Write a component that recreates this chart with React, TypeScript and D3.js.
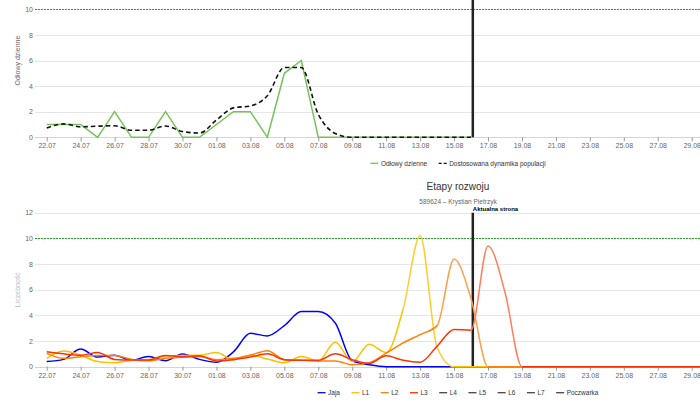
import { useEffect, useRef } from 'react';
import * as d3 from 'd3';

// Dates
const startDate = new Date(2024, 6, 22);
const currentDate = new Date(2024, 7, 16, 2, 30);
const tickLabels = [
  '22.07', '24.07', '26.07', '28.07', '30.07', '01.08', '03.08', '05.08', '07.08', '09.08',
  '11.08', '13.08', '15.08', '17.08', '19.08', '21.08', '23.08', '25.08', '27.08', '29.08',
];
const topYTicks = [0, 2, 4, 6, 8, 10];
const bottomYTicks = [0, 2, 4, 6, 8, 10, 12];

// Top chart: Odłowy dzienne / Dostosowana dynamika populacji (22.07 - 16.08)
const catchDaily = [1, 1, 1, 0, 2, 0, 0, 2, 0, 0, 1, 2, 2, 0, 5, 6, 0, 0, 0, 0, 0, 0, 0, 0, 0, 0];
const adjustedDynamics = [
  0.72, 1.05, 0.82, 0.87, 0.9, 0.55, 0.55, 0.88, 0.45, 0.33, 1.35, 2.3, 2.45, 3.25, 5.45, 5.45,
  1.8, 0.3, 0, 0, 0, 0, 0, 0, 0, 0,
];

// Bottom chart: Etapy rozwoju (22.07 - 30.08)
const eggs = [
  0.4, 0.57, 1.38, 0.75, 0.9, 0.5, 0.8, 0.47, 0.98, 0.57, 0.34, 1.15, 2.6, 2.4, 3.2, 4.3, 4.3, 3.4,
  0.45, 0.15, 0, 0, 0, 0, 0, 0, 0, 0, 0, 0, 0, 0, 0, 0, 0, 0, 0, 0, 0, 0,
];
const larva1 = [
  0.65, 1.22, 0.9, 0.4, 0.3, 0.5, 0.55, 0.83, 0.88, 0.9, 1.1, 0.55, 0.9, 0.6, 0.3, 0.8, 0.45, 1.9,
  0.4, 1.75, 1.1, 4.5, 10.2, 1.5, 0, 0, 0, 0, 0, 0, 0, 0, 0, 0, 0, 0, 0, 0, 0, 0,
];
const larva2 = [
  1.04, 0.65, 0.78, 0.88, 0.88, 0.57, 0.47, 0.65, 0.73, 0.8, 0.55, 0.65, 0.9, 1.25, 0.55, 0.5, 0.45,
  0.45, 0.15, 0.3, 1.05, 1.85, 2.5, 3.2, 8.4, 5.3, 0, 0, 0, 0, 0, 0, 0, 0, 0, 0, 0, 0, 0, 0,
];
const larva3 = [
  1.17, 1.0, 0.9, 1.1, 0.57, 0.52, 0.52, 0.88, 0.78, 0.85, 0.45, 0.55, 0.75, 1.0, 0.55, 0.5, 0.5,
  1.0, 0.55, 0.25, 0.85, 0.5, 0.35, 1.6, 2.9, 2.85, 9.4, 5.8, 0, 0, 0, 0, 0, 0, 0, 0, 0, 0, 0, 0,
];

const stageNames = ['Jaja', 'L1', 'L2', 'L3', 'L4', 'L5', 'L6', 'L7', 'Poczwarka'];
const stageColors = ['#0000ff', '#ffc000', '#ff8000', '#ff3300', '#434348', '#434348', '#434348', '#434348', '#434348'];
// lighter colour on the peak stretch of each line
const stageZoneColors = ['#0000ff', '#ffcc33', '#ffa04d', '#ff7f5c'];
const stageZoneFrom = ['2024-09-30', '2024-08-12', '2024-08-14', '2024-08-16'];
const stageZoneTo = ['2024-09-30', '2024-08-15', '2024-08-17', '2024-08-19'];
const stageSeries = [eggs, larva1, larva2, larva3];

const FONT = '"Liberation Sans", Arial, Helvetica, sans-serif';

export default function App() {
  const svgRef = useRef<SVGSVGElement>(null);

  useEffect(() => {
    if (!svgRef.current) return;
    const width = 700;
    const height = 404;
    const plotLeft = 35;
    const plotRight = 700;

    d3.select(svgRef.current).selectAll('*').remove();
    const svg = d3.select(svgRef.current).attr('width', width).attr('height', height);
    const defs = svg.append('defs');

    const parse = d3.timeParse('%d.%m.%Y');
    const tickDates = tickLabels.map((t) => parse(t + '.2024') as Date);
    const x = d3
      .scaleTime()
      .domain([startDate, d3.timeDay.offset(startDate, 38)])
      .range([46.7, 691.7]);
    const dayAt = (i: number) => d3.timeDay.offset(startDate, i);
    const crisp = (v: number) => Math.round(v) + 0.5;

    function drawFrame(
      g: d3.Selection<SVGGElement, unknown, null, undefined>,
      y: d3.ScaleLinear<number, number>,
      yTicks: number[],
      title: string,
      titleColor: string,
    ) {
      // grid
      g.selectAll('.grid')
        .data(yTicks.filter((t) => t > 0))
        .enter()
        .append('line')
        .attr('x1', plotLeft)
        .attr('x2', plotRight)
        .attr('y1', (d) => crisp(y(d)))
        .attr('y2', (d) => crisp(y(d)))
        .attr('stroke', '#e6e6e6')
        .attr('stroke-width', 1);

      // 10 threshold
      g.append('line')
        .attr('x1', plotLeft)
        .attr('x2', plotRight)
        .attr('y1', crisp(y(10)))
        .attr('y2', crisp(y(10)))
        .attr('stroke', '#2e9e2e')
        .attr('stroke-width', 1)
        .attr('stroke-dasharray', '2,1');

      // y axis
      const yAxis = g
        .append('g')
        .attr('transform', `translate(${plotLeft + 2}, 0)`)
        .call(d3.axisLeft(y).tickValues(yTicks).tickSize(0).tickPadding(4));
      yAxis.select('.domain').remove();
      yAxis.selectAll('text').style('font-size', '7px').style('fill', '#666').style('font-family', FONT);

      // x axis
      g.append('line')
        .attr('x1', plotLeft)
        .attr('x2', plotRight)
        .attr('y1', crisp(y(0)))
        .attr('y2', crisp(y(0)))
        .attr('stroke', '#ccd6eb');
      const xAxis = g
        .append('g')
        .attr('transform', `translate(0, ${y(0)})`)
        .call(
          d3
            .axisBottom(x)
            .tickValues(tickDates)
            .tickFormat((d) => d3.timeFormat('%d.%m')(d as Date))
            .tickSize(4)
            .tickPadding(2),
        );
      xAxis.select('.domain').remove();
      xAxis.selectAll('line').attr('stroke', '#999');
      xAxis.selectAll('text').style('font-size', '7px').style('fill', '#666').style('font-family', FONT);

      // axis title
      const [y0, y1] = y.range();
      g.append('text')
        .attr('transform', `translate(20, ${(y0 + y1) / 2}) rotate(-90)`)
        .attr('text-anchor', 'middle')
        .style('font-size', '7px')
        .style('font-family', FONT)
        .style('fill', titleColor)
        .text(title);
    }

    function drawLegend(
      items: { name: string; color: string; dash?: string }[],
      cx: number,
      cy: number,
    ) {
      const lg = svg.append('g');
      let pos = 0;
      items.forEach((it) => {
        const item = lg.append('g').attr('transform', `translate(${pos}, 0)`);
        item
          .append('line')
          .attr('x1', 0)
          .attr('x2', 8)
          .attr('y1', 0)
          .attr('y2', 0)
          .attr('stroke', it.color)
          .attr('stroke-width', 1.3)
          .attr('stroke-dasharray', it.dash || null);
        const t = item
          .append('text')
          .attr('x', 10.5)
          .attr('y', 2.2)
          .style('font-size', '6.5px')
          .style('font-family', FONT)
          .style('fill', '#333')
          .text(it.name);
        const w = (t.node() as SVGTextElement).getComputedTextLength();
        pos += 10.5 + w + 11.5;
      });
      const total = pos - 11.5;
      lg.attr('transform', `translate(${cx - total / 2}, ${cy})`);
    }

    // ---------- Top chart ----------
    const yTop = d3.scaleLinear().domain([0, 12]).range([137.3, -16.3]);
    const top = svg.append('g');
    drawFrame(top, yTop, topYTicks, 'Odłowy dzienne', '#7a6464');

    top.append('line')
      .attr('x1', x(currentDate))
      .attr('x2', x(currentDate))
      .attr('y1', yTop(12))
      .attr('y2', yTop(0))
      .attr('stroke', '#222')
      .attr('stroke-width', 2.5);

    const lineLinear = d3
      .line<number>()
      .x((_, i) => x(dayAt(i)))
      .y((d) => yTop(d));
    const lineSmoothTop = d3
      .line<number>()
      .x((_, i) => x(dayAt(i)))
      .y((d) => yTop(d))
      .curve(d3.curveMonotoneX);

    top.append('path')
      .datum(catchDaily)
      .attr('d', lineLinear)
      .attr('fill', 'none')
      .attr('stroke', '#76c25a')
      .attr('stroke-width', 1.5);
    top.append('path')
      .datum(adjustedDynamics)
      .attr('d', lineSmoothTop)
      .attr('fill', 'none')
      .attr('stroke', '#111')
      .attr('stroke-width', 1.6)
      .attr('stroke-dasharray', '4.5,3');

    drawLegend(
      [
        { name: 'Odłowy dzienne', color: '#76c25a' },
        { name: 'Dostosowana dynamika populacji', color: '#111', dash: '3,2' },
      ],
      458,
      163.3,
    );

    // ---------- Bottom chart ----------
    svg.append('text')
      .attr('x', 458)
      .attr('y', 189.5)
      .attr('text-anchor', 'middle')
      .style('font-size', '10px')
      .style('font-family', FONT)
      .style('fill', '#333')
      .text('Etapy rozwoju');
    svg.append('text')
      .attr('x', 458)
      .attr('y', 203.5)
      .attr('text-anchor', 'middle')
      .style('font-size', '6.5px')
      .style('font-family', FONT)
      .style('fill', '#666')
      .text('589624 – Krystian Pietrzyk');

    const yBot = d3.scaleLinear().domain([0, 12]).range([366.7, 212.7]);
    const bot = svg.append('g');
    drawFrame(bot, yBot, bottomYTicks, 'Liczebność', '#b8b8c8');

    bot.append('line')
      .attr('x1', x(currentDate))
      .attr('x2', x(currentDate))
      .attr('y1', yBot(12))
      .attr('y2', yBot(0))
      .attr('stroke', '#222')
      .attr('stroke-width', 2.5);
    bot.append('text')
      .attr('x', x(currentDate))
      .attr('y', 210.5)
      .style('font-size', '6px')
      .style('font-family', FONT)
      .style('fill', '#000')
      .style('font-weight', 'bold')
      .text('Aktualna strona');

    const lineSmoothBot = d3
      .line<number>()
      .x((_, i) => x(dayAt(i)))
      .y((d) => yBot(d))
      .curve(d3.curveMonotoneX);

    const parseIso = d3.timeParse('%Y-%m-%d');
    stageSeries.forEach((s, i) => {
      const z0 = Math.min(x(parseIso(stageZoneFrom[i]) as Date), width);
      const z1 = Math.min(x(parseIso(stageZoneTo[i]) as Date), width);
      // outside the zone: base colour
      const clipA = defs.append('clipPath').attr('id', `zone-a-${i}`);
      clipA.append('rect').attr('x', 0).attr('y', 0).attr('width', z0).attr('height', height);
      clipA.append('rect').attr('x', z1).attr('y', 0).attr('width', Math.max(width - z1, 0)).attr('height', height);
      // inside the zone: lighter colour
      defs.append('clipPath').attr('id', `zone-b-${i}`)
        .append('rect').attr('x', z0).attr('y', 0).attr('width', Math.max(z1 - z0, 0)).attr('height', height);
      bot.append('path')
        .datum(s)
        .attr('d', lineSmoothBot)
        .attr('fill', 'none')
        .attr('clip-path', `url(#zone-a-${i})`)
        .attr('stroke', stageColors[i])
        .attr('stroke-width', 1.5);
      bot.append('path')
        .datum(s)
        .attr('d', lineSmoothBot)
        .attr('fill', 'none')
        .attr('clip-path', `url(#zone-b-${i})`)
        .attr('stroke', stageZoneColors[i])
        .attr('stroke-width', 1.5);
    });

    drawLegend(
      stageNames.map((n, i) => ({ name: n, color: stageColors[i] })),
      458,
      392.7,
    );
  }, []);

  return (
    <svg
      ref={svgRef}
      style={{ position: 'absolute', left: 0, top: 0, background: '#fff' }}
    />
  );
}
